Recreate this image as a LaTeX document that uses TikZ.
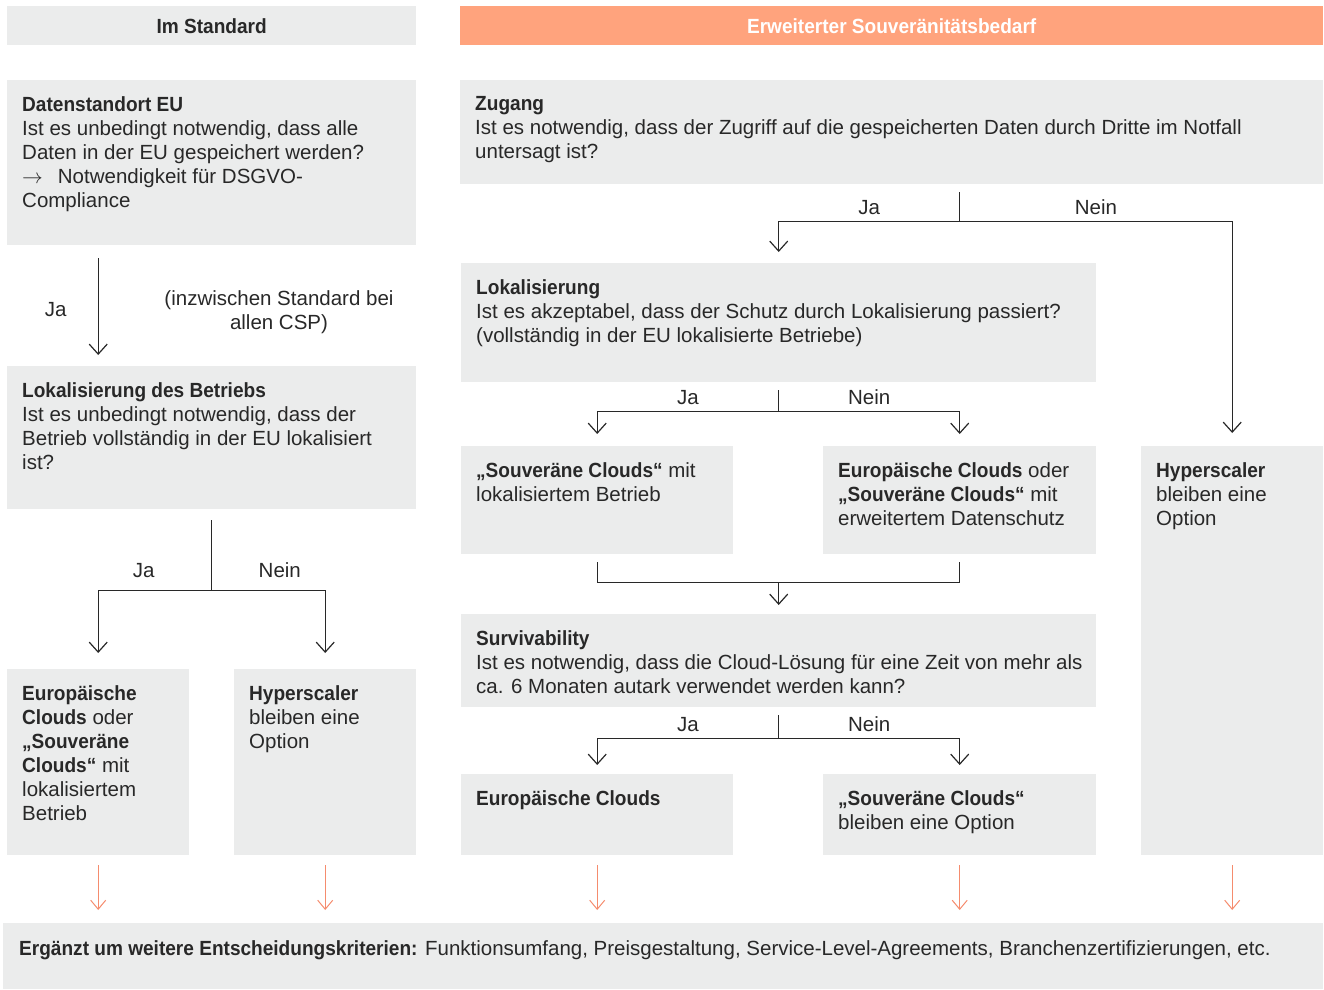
\documentclass[tikz,border=0pt]{standalone}
\usepackage{fontspec}
\setmainfont{Liberation Sans}[BoldFeatures={FakeStretch=0.93}]
\usetikzlibrary{arrows.meta,calc,positioning}
\definecolor{boxgray}{RGB}{235,236,236}
\definecolor{hdorange}{RGB}{255,163,125}
\definecolor{arrorange}{RGB}{245,140,110}
\definecolor{ink}{RGB}{40,40,40}
\newcommand{\boxfont}{\fontsize{20.5}{24}\selectfont}

\begin{document}
\begin{tikzpicture}[x=1pt,y=-1pt]
\tikzset{box/.style={fill=boxgray,anchor=north west,inner sep=0pt},
 txt/.style={anchor=north west,align=left,font=\boxfont,text=ink,inner xsep=15pt,inner ysep=16pt},
 hd/.style={box,font=\boxfont\bfseries,text=ink},
 lbl/.style={font=\boxfont,text=ink,inner sep=3pt},
 ln/.style={draw=ink,line width=1.2pt},
 arr/.style={ln,-{Straight Barb[length=10pt,width=18pt]}},
 oarr/.style={draw=arrorange,line width=1pt,-{Straight Barb[length=9pt,width=15pt]},shorten <=10pt,shorten >=13pt}}
\useasboundingbox (0,0) rectangle (1324,989);
% headers
\node[hd,minimum width=409,minimum height=39] (hdL) at (7,6) {Im Standard};
\node[hd,fill=hdorange,text=white,minimum width=863,minimum height=39] (hdR) at (460,6) {Erweiterter Souveränitätsbedarf};
% boxes
\node[box,minimum width=409,minimum height=165] (dsB) at (7,80) {};
\node[box,minimum width=409,minimum height=143] (lbB) at (7,366) {};
\node[box,minimum width=182,minimum height=186] (euL) at (7,669) {};
\node[box,minimum width=182,minimum height=186] (hsL) at (234,669) {};
\node[box,minimum width=863,minimum height=104] (zgB) at (460,80) {};
\node[box,minimum width=635,minimum height=119] (lkB) at (461,263) {};
\node[box,minimum width=272,minimum height=108] (scB) at (461,446) {};
\node[box,minimum width=273,minimum height=108] (ecB) at (823,446) {};
\node[box,minimum width=182,minimum height=409] (hsR) at (1141,446) {};
\node[box,minimum width=635,minimum height=93] (svB) at (461,614) {};
\node[box,minimum width=272,minimum height=81] (euR) at (461,774) {};
\node[box,minimum width=273,minimum height=81] (soR) at (823,774) {};
\node[box,minimum width=1320,minimum height=66] (btB) at (3,923) {};
% texts
\node[txt] (dsT) at (dsB.north west) {\textbf{Datenstandort EU}\\Ist es unbedingt notwendig, dass alle\\Daten in der EU gespeichert werden?\\$\rightarrow$\hspace{15pt}Notwendigkeit für DSGVO-\\Compliance};
\node[txt] (lbT) at (lbB.north west) {\textbf{Lokalisierung des Betriebs}\\Ist es unbedingt notwendig, dass der\\Betrieb vollständig in der EU lokalisiert\\ist?};
\node[txt] (euLT) at (euL.north west) {\textbf{Europäische}\\\textbf{Clouds} oder\\\textbf{„Souveräne}\\\textbf{Clouds“} mit\\lokalisiertem\\Betrieb};
\node[txt] (hsLT) at (hsL.north west) {\textbf{Hyperscaler}\\bleiben eine\\Option};
\node[txt] (zgT) at (zgB.north west) {\textbf{Zugang}\\Ist es notwendig, dass der Zugriff auf die gespeicherten Daten durch Dritte im Notfall\\untersagt ist?};
\node[txt] (lkT) at (lkB.north west) {\textbf{Lokalisierung}\\Ist es akzeptabel, dass der Schutz durch Lokalisierung passiert?\\(vollständig in der EU lokalisierte Betriebe)};
\node[txt] (scT) at (scB.north west) {\textbf{„Souveräne Clouds“} mit\\lokalisiertem Betrieb};
\node[txt] (ecT) at (ecB.north west) {\textbf{Europäische Clouds} oder\\\textbf{„Souveräne Clouds“} mit\\erweitertem Datenschutz};
\node[txt] (hsRT) at (hsR.north west) {\textbf{Hyperscaler}\\bleiben eine\\Option};
\node[txt] (svT) at (svB.north west) {\textbf{Survivability}\\Ist es notwendig, dass die Cloud-Lösung für eine Zeit von mehr als\\ca. 6 Monaten autark verwendet werden kann?};
\node[txt] (euRT) at (euR.north west) {\textbf{Europäische Clouds}};
\node[txt] (soRT) at (soR.north west) {\textbf{„Souveräne Clouds“}\\bleiben eine Option};
\node[txt,inner xsep=16pt,inner ysep=17pt] (btT) at (btB.north west) {\textbf{Ergänzt um weitere Entscheidungskriterien:} Funktionsumfang, Preisgestaltung, Service-Level-Agreements, Branchenzertifizierungen, etc.};
% left column
\draw[arr,shorten <=13pt,shorten >=11pt] (dsB.south -| euL.north) -- (lbB.north -| euL.north) node[lbl,midway,left=28pt,yshift=-4pt]{Ja};
\node[lbl,align=center] (csp) at (279,312) {(inzwischen Standard bei\\allen CSP)};
\coordinate (lbS) at ($(lbB.south)+(0,81)$);
\draw[ln,shorten <=11pt] (lbB.south) -- (lbS);
\draw[arr,shorten >=16pt] (lbS) -| (euL.north) node[lbl,pos=.3,above=9pt]{Ja};
\draw[arr,shorten >=16pt] (lbS) -| (hsL.north) node[lbl,pos=.3,above=9pt]{Nein};
% right column
\coordinate (zgS) at ($(zgB.south -| ecB.north)+(0,37)$);
\draw[ln,shorten <=8pt] (zgB.south -| ecB.north) -- (zgS);
\draw[arr,shorten >=11pt] (zgS) -| (lkB.north) node[lbl,pos=.25,above=3pt]{Ja};
\draw[arr,shorten >=13pt] (zgS) -| (hsR.north) node[lbl,pos=.25,above=3pt]{Nein};
\coordinate (lkS) at ($(lkB.south)+(0,29)$);
\draw[ln,shorten <=8pt] (lkB.south) -- (lkS);
\draw[arr,shorten >=12pt] (lkS) -| (scB.north) node[lbl,pos=.25,above=3pt]{Ja};
\draw[arr,shorten >=12pt] (lkS) -| (ecB.north) node[lbl,pos=.25,above=3pt]{Nein};
\coordinate (jn) at ($(lkB.south)+(0,200)$);
\draw[ln,shorten <=8pt] (scB.south) |- (jn);
\draw[ln,shorten <=8pt] (ecB.south) |- (jn);
\draw[arr,shorten >=9pt] (jn) -- (svB.north);
\coordinate (svS) at ($(svB.south)+(0,31)$);
\draw[ln,shorten <=8pt] (svB.south) -- (svS);
\draw[arr,shorten >=9pt] (svS) -| (euR.north) node[lbl,pos=.25,above=3pt]{Ja};
\draw[arr,shorten >=9pt] (svS) -| (soR.north) node[lbl,pos=.25,above=3pt]{Nein};
% to the bottom bar
\foreach \b in {euL,hsL,euR,soR,hsR}
  \draw[oarr] (\b.south) -- (\b.south |- btB.north);
\end{tikzpicture}
\end{document}
